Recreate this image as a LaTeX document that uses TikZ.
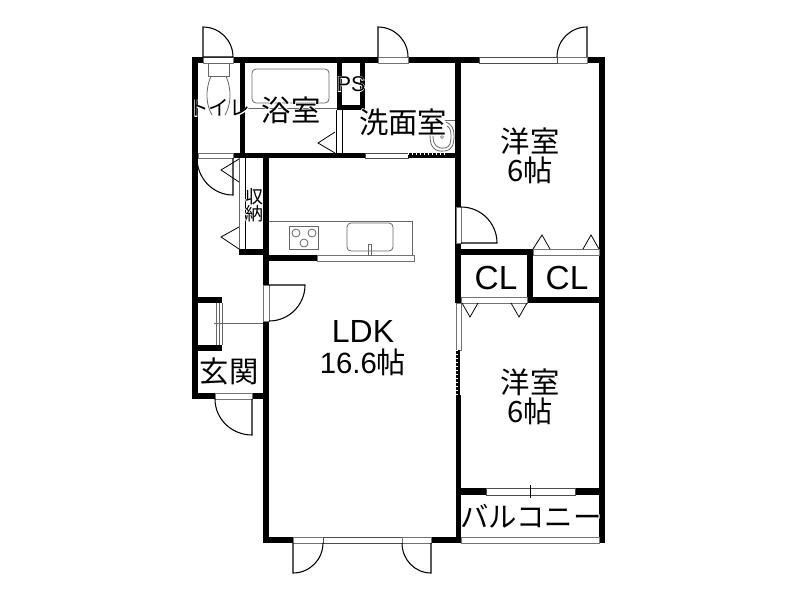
\documentclass[tikz,border=0pt]{standalone}
\usepackage{fontspec}
\setmainfont{Noto Sans CJK JP}
\newfontfamily\latinfont{Liberation Sans}
\newfontfamily\halofont[FakeBold=5,Color=FFFFFF]{Noto Sans CJK JP}
\newfontfamily\halolatin[FakeBold=5,Color=FFFFFF]{Liberation Sans}
\newcommand{\halo}[1]{\makebox[0pt][l]{\halofont #1}#1}
\newcommand{\halolat}[1]{\makebox[0pt][l]{\halolatin #1}#1}
\usetikzlibrary{positioning}

\begin{document}
\begin{tikzpicture}[
  x=0.75pt, y=-0.75pt,
  wall/.style={fill=black},
  sill/.style={draw=black!55, fill=white, line width=0.6pt},
  window/.style={draw=black!70, fill=white, line width=0.6pt},
  door/.style={draw=black, line width=0.8pt},
  fixture/.style={draw=black!60, line width=0.6pt, rounded corners=3pt},
  fold/.style={draw=black, line width=0.6pt},
  thinline/.style={draw=black!60, line width=0.6pt},
  room/.style={font=\fontsize{22}{22}\selectfont, align=center, inner sep=0pt},
  small/.style={font=\fontsize{13.5}{13}\selectfont, align=center, inner sep=0pt},
  latin/.style={font=\fontsize{25}{27}\latinfont, inner sep=0pt}
]
\useasboundingbox (0,0) rectangle (800,600);

% Walls
\fill[wall] (192,57) rectangle (605,63);
\fill[wall] (192,57) rectangle (198,399);
\fill[wall] (599,57) rectangle (605,543);
\fill[wall] (240,57) rectangle (245,158);
\fill[wall] (192,153) rectangle (365,158);
\fill[wall] (408,153) rectangle (461,158);
\fill[wall] (337,63) rectangle (342,110);
\fill[wall] (360,63) rectangle (365,110);
\fill[wall] (337,105) rectangle (365,110);
\fill[wall] (455,57) rectangle (461,303);
\fill[wall] (456,395) rectangle (461,543);
\fill[wall] (263,153) rectangle (269,285);
\fill[wall] (263,321) rectangle (269,543);
\fill[wall] (239,249) rectangle (269,255);
\fill[wall] (263,255) rectangle (317,261);
\fill[wall] (192,297) rectangle (222,303);
\fill[wall] (192,345) rectangle (222,351);
\fill[wall] (192,393) rectangle (269,399);
\fill[wall] (263,537) rectangle (461,543);
\fill[wall] (455,249) rectangle (533,255);
\fill[wall] (527,249) rectangle (533,303);
\fill[wall] (527,297) rectangle (605,303);
\fill[wall] (456,488) rectangle (605,495);

% Sills and windows
\draw[sill] (203,57) rectangle (233,63);
\draw[sill] (378,57) rectangle (408,63);
\draw[sill] (557,57) rectangle (587,63);
\draw[window] (479,57) rectangle (557,63);
\draw[sill] (198,153) rectangle (233,158);
\draw[sill] (215,393) rectangle (252,399);
\draw[window] (365,153) rectangle (408,158);
\draw[sill] (456,207) rectangle (461,243);
\draw[sill] (263,285) rectangle (269,321);
\draw[sill] (533,249) rectangle (599,255);
\draw[sill] (461,297) rectangle (527,303);
\draw[sill] (456,303) rectangle (461,350);
\draw[window] (486,488) rectangle (575,495);
\draw[fold] (530,485) -- (530,498);
\draw[sill] (293,537) rectangle (323,543);
\draw[window] (323,537) rectangle (402,543);
\draw[sill] (402,537) rectangle (431,543);
\draw[sill] (461,537) rectangle (599,543);
\draw[sill] (317,255) rectangle (414,261);

% Dotted window parts
\fill[wall] (456,350) rectangle (460,395);
\draw[white, line width=0.8pt, dash pattern=on 1pt off 2pt] (457,350) -- (457,395);
\fill[wall] (408,155) rectangle (448,158);
\draw[white, line width=0.8pt, dash pattern=on 1pt off 2pt] (408,154) -- (448,154);

% Doors
\draw[door] (233,57) -- (203,57) -- (203,27) to[out=0, in=90] (233,57);
\draw[door] (378,57) -- (378,27) to[out=0, in=90] (408,57);
\draw[door] (587,57) -- (587,27) to[out=180, in=90] (557,57);
\draw[door] (233,158) -- (233,195) to[out=180, in=-90] (197,158);
\draw[door] (252,399) -- (252,435) to[out=180, in=-90] (215,399);
\draw[door] (269,285) -- (305,285) to[out=-90, in=0] (269,321);
\draw[door] (461,243) -- (497,243) to[out=90, in=0] (461,207);
\draw[door] (293,543) -- (293,573) to[out=0, in=-90] (323,543);
\draw[door] (431,543) -- (431,573) to[out=180, in=-90] (402,543);

% Folding doors
\draw[fold] (335,132) -- (318,143) -- (335,153);
\draw[fold] (336,110) -- (336,153);
\draw[fold] (342,110) -- (342,153);
\draw[fold] (239,159) -- (221,170) -- (239,182);
\draw[fold] (239,227) -- (221,237) -- (239,249);
\draw[thinline] (239,158) -- (239,249);
\draw[fold] (245,158) -- (245,249);
\draw[fold] (533,249) -- (542,235) -- (550,249);
\draw[fold] (583,249) -- (591,235) -- (599,249);
\draw[fold] (462,303) -- (470,317) -- (478,303);
\draw[fold] (511,303) -- (519,317) -- (527,303);

% Bath and toilet
\draw[fixture] (252,69) rectangle (329,103);
\draw[thinline] (245,108) -- (337,108);
\draw[thinline] (208,63) rectangle (229,76);
\draw[thinline] (211,76) .. controls (205,90) and (206,105) .. (212,115);
\draw[thinline] (226,76) .. controls (232,90) and (231,105) .. (225,115);

% Wash basin
\draw[thinline] (445,120) -- (455,120);
\draw[thinline] (430,135) .. controls (430,148) and (435,152) .. (445,151) .. controls (452,150) and (454,145) .. (454,135) .. controls (454,128) and (451,124) .. (446,122);
\draw[thinline] (433,136) .. controls (433,145) and (437,149) .. (445,148) .. controls (450,147) and (451,143) .. (451,135) .. controls (451,130) and (449,127) .. (447,126);
\draw[thinline, line width=0.5pt] (442,137) circle (1.5);

% Kitchen
\draw[thinline] (269,221) -- (412,221) -- (412,255);
\draw[thinline] (289,226) rectangle (318,249);
\draw[thinline] (296,233) circle (4);
\draw[thinline] (312,233) circle (4);
\draw[thinline] (304,243) circle (4);
\draw[fixture] (347,223) rectangle (393,251);
\draw[thinline] (368,244) rectangle (371,255);

% Shoe cupboard
\draw[thinline] (216,303) -- (216,345);
\draw[thinline] (219,303) -- (219,345);
\draw[thinline] (222,303) -- (222,345);
\draw[thinline] (214,323) -- (263,323);

% Room names
\node[room] (bath) at (291,110) {\halo{浴室}};
\node[room] (wash) at (403,122) {\halo{洗面室}};
\node[room] (west1) at (530,156) {洋室\\6帖};
\node[room] (west2) at (530,397) {洋室\\6帖};
\node[room] (entry) at (229,371) {玄関};
\node[room] (balcony) at (531,516) {\fontsize{21.3}{22}\selectfont\halo{バルコニー}};
\node[small] (toilet) at (219,108) {\fontsize{15.5}{16}\selectfont\halo{トイレ}};
\node[small] (storage) at (254,205) {\halo{収}\\\halo{納}};
\node[latin] (ps) at (351,84) {\fontsize{16}{18}\selectfont\halolat{PS}};
\node[latin] (cl1) at (496,278) {CL};
\node[latin] (cl2) at (567,278) {CL};
\node[latin, align=center] (ldk) at (363,348) {\fontsize{24}{27}\selectfont LDK\\[-4pt]{\fontsize{22}{26}\selectfont 16.6}{\rmfamily\fontsize{22}{26}\selectfont 帖}};

\end{tikzpicture}
\end{document}
